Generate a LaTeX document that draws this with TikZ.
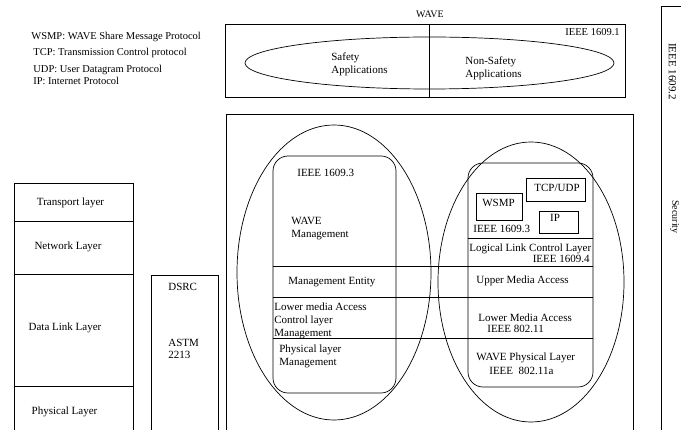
\documentclass[tikz,border=0pt]{standalone}
\usepackage{fontspec}
\setmainfont{Liberation Serif}
\begin{document}
\begin{tikzpicture}[x=1pt,y=-1pt,line width=0.7pt,
  lbl/.style={inner sep=0pt,font=\fontsize{11}{13}\selectfont},
  lw/.style={lbl,anchor=base west},
  lc/.style={lbl,anchor=base},
  le/.style={lbl,anchor=base east},
  legend/.style={inner sep=0pt,anchor=base west,font=\fontsize{10.5}{12}\selectfont},
  frame/.style={draw=black,line width=0.7pt},
  sub/.style={draw=black,line width=0.7pt}]
\useasboundingbox (0,0) rectangle (681,430);
\clip (0,0) rectangle (681,430);

% legend of abbreviations
\node[legend] (lg1) at (31,40) {WSMP: WAVE Share Message Protocol};
\node[legend] (lg2) at (33,55.5) {TCP: Transmission Control protocol};
\node[legend] (lg3) at (33,72.5) {UDP: User Datagram Protocol};
\node[legend] (lg4) at (33,85) {IP: Internet Protocol};

% application block, IEEE 1609.1
\node[inner sep=0pt,anchor=base,font=\fontsize{10}{12}\selectfont] (wave) at (430,18) {WAVE};
\draw[frame] (225,24) rectangle (625,97);
\draw[frame] (429,24) -- (429,97);
\draw[frame] (429.5,63) ellipse [x radius=184.5pt, y radius=26pt];
\node[le,font=\fontsize{10.5}{12}\selectfont] (p1) at (620,36) {IEEE 1609.1};
\node[lw] (sa1) at (331,61) {Safety};
\node[lw] (sa2) at (331,74) {Applications};
\node[lw] (ns1) at (465,64.5) {Non-Safety};
\node[lw] (ns2) at (465,78) {Applications};

% security strip, IEEE 1609.2
\draw[frame] (661,440) -- (661,6) -- (690,6);
\node[lbl,rotate=-90] (p2) at (672.5,71.5) {IEEE 1609.2};
\node[inner sep=0pt,rotate=-90,font=\fontsize{10}{12}\selectfont] (sec) at (674.5,217) {Security};

% OSI reference stack
\draw[frame] (14,440) -- (14,183) -- (133,183) -- (133,440);
\draw[frame] (14,221) -- (133,221);
\draw[frame] (14,274) -- (133,274);
\draw[frame] (14,386) -- (133,386);
\node[lc] (osi1) at (70.5,206) {Transport layer};
\node[lc] (osi2) at (68,250) {Network Layer};
\node[lc] (osi3) at (65,331) {Data Link Layer};
\node[lc] (osi4) at (64.5,415) {Physical Layer};

% DSRC column
\draw[frame] (151,440) -- (151,275) -- (218,275) -- (218,440);
\node[lw] (dsrc) at (168,291) {DSRC};
\node[lw] (astm1) at (168,347) {ASTM};
\node[lw] (astm2) at (168,359) {2213};

% WAVE protocol block
\draw[frame] (226,440) -- (226,114) -- (633,114) -- (633,440);
\draw[frame] (334,272.5) ellipse [x radius=97pt, y radius=147.5pt];
\draw[frame] (531,282) ellipse [x radius=93pt, y radius=140pt];
\draw[sub,rounded corners=15pt] (273,156) rectangle (396,393);
\draw[sub,rounded corners=15pt] (468,163) rectangle (593,387);

% layer boundaries across both planes
\draw[sub] (273,266) -- (593,266);
\draw[sub] (273,297) -- (593,297);
\draw[sub,line width=0.9pt] (273,338) -- (593,338);
\draw[sub] (468,238) -- (593,238);

% management plane
\node[lw] (m0) at (297,177) {IEEE 1609.3};
\node[lw] (m1) at (291,225) {WAVE};
\node[lw] (m2) at (291,238) {Management};
\node[lw] (m3) at (288,285) {Management Entity};
\node[lw] (m4) at (274,311) {Lower media Access};
\node[lw] (m5) at (274,324) {Control layer};
\node[lw] (m6) at (274,337) {Management};
\node[lw] (m7) at (279,353) {Physical layer};
\node[lw] (m8) at (279,366) {Management};

% data plane
\draw[sub] (526,178) rectangle (585,201);
\draw[sub] (476,193) rectangle (522,220);
\draw[sub] (539,211) rectangle (578,233);
\node[lc] (tcp) at (557,192) {TCP/UDP};
\node[lc] (wsmp) at (498.5,207) {WSMP};
\node[lc] (ip) at (555,222) {IP};
\node[lw] (d0) at (473,233) {IEEE 1609.3};
\node[lw] (d1) at (469,252) {Logical Link Control Layer};
\node[le] (d2) at (590,263) {IEEE 1609.4};
\node[lw] (d3) at (476,284) {Upper Media Access};
\node[lw] (d4) at (478,322) {Lower Media Access};
\node[lw] (d5) at (487,333) {IEEE 802.11};
\node[lw] (d6) at (476,361) {WAVE Physical Layer};
\node[lw] (d7) at (489,375) {IEEE\ \ 802.11a};
\end{tikzpicture}
\end{document}
